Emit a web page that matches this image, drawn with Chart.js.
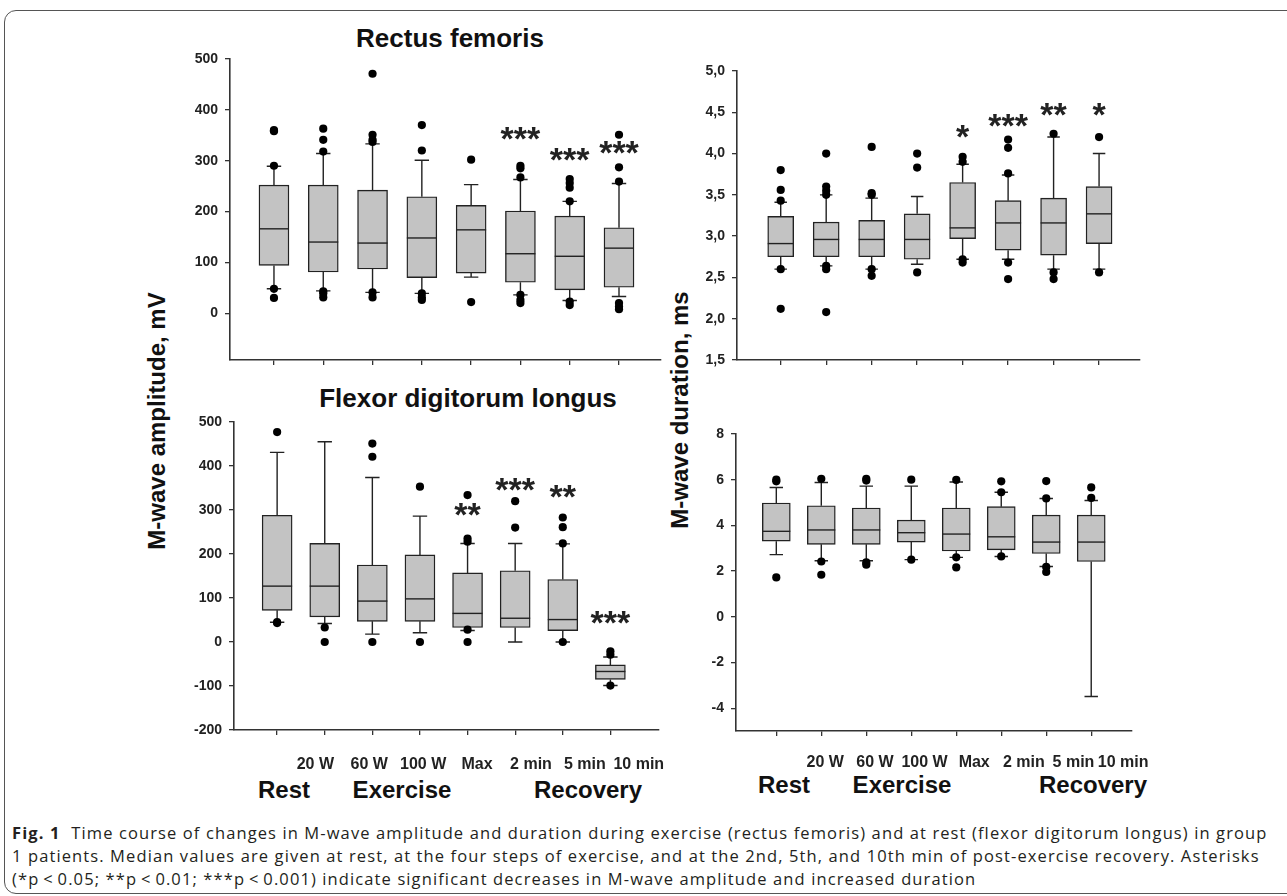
<!DOCTYPE html>
<html lang="en">
<head>
<meta charset="UTF-8">
<title>M-wave amplitude and duration</title>
<script src="https://cdn.jsdelivr.net/npm/chart.js"></script>
<style>
    body { margin: 0; width: 1287px; height: 896px; overflow: hidden; position: relative; background: #fff; font-family: Arial, "Liberation Sans", sans-serif; color: #111; }
    .frame { position: absolute; left: 4px; top: 10px; width: 1330px; height: 884px; border: 1.5px solid #555; border-radius: 12px; box-sizing: border-box; }
    canvas { position: absolute; }
    .lbl { position: absolute; transform: translate(-50%, -50%); white-space: nowrap; font-weight: bold; line-height: 1; }
    .title { font-size: 26px; }
    .group { font-size: 24px; }
    .ytitle { font-size: 24px; transform: translate(-50%, -50%) rotate(-90deg); }
    .cap { position: absolute; left: 12px; white-space: nowrap; font-family: "Open Sans", sans-serif; font-size: 16.5px; color: #231f20; line-height: 1; transform: translateY(-50%); }
</style>
</head>
<body>
<div class="frame"></div>

<div class="lbl title" style="left:450px; top:38px;">Rectus femoris</div>
<div class="lbl title" style="left:468px; top:398px;">Flexor digitorum longus</div>
<div class="lbl ytitle" style="left:157px; top:421px;">M-wave amplitude, mV</div>
<div class="lbl ytitle" style="left:680px; top:410px;">M-wave duration, ms</div>

<div class="lbl group" style="left:284px; top:790px;">Rest</div>
<div class="lbl group" style="left:402px; top:790px;">Exercise</div>
<div class="lbl group" style="left:588px; top:790px;">Recovery</div>
<div class="lbl group" style="left:784px; top:785px;">Rest</div>
<div class="lbl group" style="left:902px; top:785px;">Exercise</div>
<div class="lbl group" style="left:1093px; top:785px;">Recovery</div>

<canvas id="rfAmp" width="501" height="341" style="left:170px; top:39px;"></canvas>
<canvas id="rfDur" width="473" height="329" style="left:677px; top:51px;"></canvas>
<canvas id="fdlAmp" width="503" height="369" style="left:174px; top:402px;"></canvas>
<canvas id="fdlDur" width="482" height="358" style="left:676px; top:414px;"></canvas>

<div class="cap" style="top:833px;"><b>Fig. 1</b>&nbsp; Time course of changes in M-wave amplitude and duration during exercise (rectus femoris) and at rest (flexor digitorum longus) in group</div>
<div class="cap" style="top:856px;">1 patients. Median values are given at rest, at the four steps of exercise, and at the 2nd, 5th, and 10th min of post-exercise recovery. Asterisks</div>
<div class="cap" style="top:879px;">(*p&thinsp;&lt;&thinsp;0.05; **p&thinsp;&lt;&thinsp;0.01; ***p&thinsp;&lt;&thinsp;0.001) indicate significant decreases in M-wave amplitude and increased duration</div>

<script>
    // categories (Rest, 4 exercise steps, 3 recovery times)
    const categories = ['Rest', '20 W', '60 W', '100 W', 'Max', '2 min', '5 min', '10 min'];
    const xTickLabels = ['', '20 W', '60 W', '100 W', 'Max', '2 min', '5 min', '10 min'];

    // Rectus femoris, amplitude (mV)
    const rfAmpLo  = [48, 44, 41, 39, 71, 36, 25, 33];
    const rfAmpQ1  = [94, 81, 87, 70, 79, 61, 46, 51];
    const rfAmpMed = [166, 140, 138, 148, 164, 117, 112, 128];
    const rfAmpQ3  = [252, 252, 242, 229, 212, 201, 191, 168];
    const rfAmpHi  = [289, 314, 333, 301, 253, 263, 220, 255];
    const rfAmpOut = [[358, 360, 290, 48, 30], [363, 341, 318, 43, 39, 31], [471, 351, 341, 337, 41, 31],
                      [370, 320, 39, 31, 26], [302, 22], [290, 285, 267, 36, 26, 20],
                      [264, 256, 247, 220, 23, 16], [351, 287, 259, 20, 13, 8]];
    const rfAmpStars = ['', '', '', '', '', '***', '***', '***'];
    const rfAmpStarY = [0, 0, 0, 0, 0, 360, 318, 331];
    const rfAmpTicks = [0, 100, 200, 300, 400, 500];

    // Rectus femoris, duration (ms)
    const rfDurLo  = [2.60, 2.64, 2.60, 2.66, 2.72, 2.72, 2.60, 2.60];
    const rfDurQ1  = [2.75, 2.75, 2.75, 2.72, 2.97, 2.83, 2.77, 2.91];
    const rfDurMed = [2.91, 2.96, 2.96, 2.96, 3.10, 3.16, 3.16, 3.27];
    const rfDurQ3  = [3.24, 3.17, 3.19, 3.27, 3.65, 3.43, 3.46, 3.60];
    const rfDurHi  = [3.41, 3.50, 3.46, 3.48, 3.87, 3.74, 4.20, 4.00];
    const rfDurOut = [[3.80, 3.56, 3.43, 2.60, 2.12], [4.00, 3.60, 3.55, 3.50, 2.64, 2.60, 2.08],
                      [4.08, 3.52, 3.50, 2.60, 2.52], [4.00, 3.83, 2.56], [3.96, 3.90, 2.72, 2.68],
                      [4.17, 4.07, 3.76, 2.68, 2.48], [4.24, 2.56, 2.48], [4.20, 2.56]];
    const rfDurStars = ['', '', '', '', '*', '***', '**', '*'];
    const rfDurStarY = [0, 0, 0, 0, 4.30, 4.44, 4.57, 4.57];
    const rfDurTicks = [1.5, 2.0, 2.5, 3.0, 3.5, 4.0, 4.5, 5.0];

    // Flexor digitorum longus, amplitude (mV)
    const fdlAmpLo  = [45, 42, 18, 21, 26, 0, 0, -99];
    const fdlAmpQ1  = [72, 57, 47, 47, 33, 33, 26, -85];
    const fdlAmpMed = [127, 127, 93, 98, 65, 54, 51, -67];
    const fdlAmpQ3  = [288, 224, 175, 198, 157, 162, 142, -52];
    const fdlAmpHi  = [431, 455, 374, 286, 224, 224, 223, -34];
    const fdlAmpOut = [[477, 45, 43], [33, 0], [451, 421, 0], [353, 0], [334, 235, 228, 28, 0],
                       [320, 260], [283, 261, 224, 0], [-21, -29, -99]];
    const fdlAmpStars = ['', '', '', '', '**', '***', '**', '***'];
    const fdlAmpStarY = [0, 0, 0, 0, 307, 364, 349, 63];
    const fdlAmpTicks = [-200, -100, 0, 100, 200, 300, 400, 500];

    // Flexor digitorum longus, duration (ms)
    const fdlDurLo  = [2.72, 2.45, 2.45, 2.50, 2.60, 2.64, 2.20, -3.49];
    const fdlDurQ1  = [3.31, 3.17, 3.17, 3.27, 2.88, 2.93, 2.77, 2.42];
    const fdlDurMed = [3.74, 3.80, 3.80, 3.68, 3.62, 3.50, 3.27, 3.27];
    const fdlDurQ3  = [4.98, 4.86, 4.76, 4.23, 4.76, 4.82, 4.45, 4.45];
    const fdlDurHi  = [5.66, 5.88, 5.72, 5.72, 5.90, 5.45, 5.18, 5.09];
    const fdlDurOut = [[6.0, 5.93, 1.72], [6.04, 2.42, 1.84], [6.04, 5.96, 2.38, 2.28], [6.0, 2.5],
                       [5.99, 2.6, 2.16], [5.93, 5.45, 2.64], [5.94, 5.18, 2.18, 1.96], [5.66, 5.2]];
    const fdlDurStars = ['', '', '', '', '', '', '', ''];
    const fdlDurStarY = [0, 0, 0, 0, 0, 0, 0, 0];
    const fdlDurTicks = [-4, -2, 0, 2, 4, 6, 8];

    const INK = '#222';
    const tickFont = { family: 'Arial', weight: 'bold', size: 14 };
    const STAR = 34;

    // whiskers under the boxes, medians and asterisks over them
    function whiskerPlugin(d) {
        return {
            id: 'whiskers',
            beforeDatasetsDraw(chart) {
                const { ctx, scales: { x, y } } = chart;
                const bars = chart.getDatasetMeta(1).data;
                ctx.save();
                ctx.strokeStyle = INK;
                ctx.lineWidth = 1.4;
                d.q1.forEach((q, i) => {
                    const px = x.getPixelForValue(i + 1);
                    const cw = bars[i].width * 0.24;
                    const yHi = y.getPixelForValue(d.hi[i]), yLo = y.getPixelForValue(d.lo[i]);
                    ctx.beginPath();
                    ctx.moveTo(px, y.getPixelForValue(d.q3[i])); ctx.lineTo(px, yHi);
                    ctx.moveTo(px, y.getPixelForValue(q)); ctx.lineTo(px, yLo);
                    ctx.moveTo(px - cw, yHi); ctx.lineTo(px + cw, yHi);
                    ctx.moveTo(px - cw, yLo); ctx.lineTo(px + cw, yLo);
                    ctx.stroke();
                });
                ctx.restore();
            },
            afterDatasetsDraw(chart) {
                const { ctx, scales: { x, y } } = chart;
                const bars = chart.getDatasetMeta(1).data;
                ctx.save();
                ctx.strokeStyle = INK;
                ctx.lineWidth = 1.4;
                d.med.forEach((m, i) => {
                    const px = x.getPixelForValue(i + 1), hw = bars[i].width / 2;
                    const py = y.getPixelForValue(m);
                    ctx.beginPath();
                    ctx.moveTo(px - hw, py); ctx.lineTo(px + hw, py);
                    ctx.stroke();
                });
                ctx.fillStyle = INK;
                ctx.font = 'bold ' + STAR + 'px Arial';
                ctx.textAlign = 'center';
                ctx.textBaseline = 'alphabetic';
                d.stars.forEach((s, i) => {
                    if (!s) return;
                    ctx.fillText(s, x.getPixelForValue(i + 1), y.getPixelForValue(d.starY[i]) + 0.57 * STAR);
                });
                ctx.restore();
            }
        };
    }

    function boxPanel(id, d, o) {
        const boxes = d.q1.map((q, i) => ({ x: i + 1, y: [q, d.q3[i]] }));
        const dots = [];
        d.out.forEach((arr, i) => arr.forEach(v => dots.push({ x: i + 1, y: v })));

        const scales = {
            x: {
                type: 'linear', min: o.xMin, max: o.xMax, offset: false,
                afterBuildTicks: s => { s.ticks = categories.map((c, i) => ({ value: i + 1 })); },
                ticks: { display: false },
                grid: { display: true, offset: false, drawOnChartArea: false, drawTicks: true, tickLength: 5, color: '#333', lineWidth: 1.3 },
                border: { display: true, color: '#333', width: 1.6 },
                afterFit: s => { s.height = 5; }
            },
            y: {
                type: 'linear', min: o.yMin, max: o.yMax,
                afterBuildTicks: s => { s.ticks = d.ticks.map(v => ({ value: v })); },
                ticks: { callback: o.fmt, font: tickFont, color: INK, padding: 7 },
                grid: { display: true, drawOnChartArea: false, drawTicks: true, tickLength: 5, color: '#333', lineWidth: 1.3 },
                border: { display: true, color: '#333', width: 1.6 },
                afterFit: s => { s.width = 60; }
            }
        };
        if (o.labels) {
            // tick names sit on their own row, spaced a little wider than the boxes
            scales.x2 = {
                type: 'linear', position: 'bottom', min: o.lblMin, max: o.lblMax, offset: false,
                afterBuildTicks: s => { s.ticks = xTickLabels.map((t, i) => ({ value: i + 1 })).filter(t => xTickLabels[t.value - 1]); },
                ticks: { callback: v => xTickLabels[v - 1], font: { family: 'Arial', weight: 'bold', size: 16 }, color: INK,
                         padding: o.lblPad, maxRotation: 0, autoSkip: false },
                grid: { display: false, offset: false },
                border: { display: false },
                afterFit: s => { s.height = 36; }
            };
        }

        new Chart(document.getElementById(id), {
            type: 'bar',
            data: {
                datasets: [
                    { type: 'scatter', data: dots, pointRadius: 4.1, pointBackgroundColor: '#000', pointBorderWidth: 0 },
                    { type: 'bar', data: boxes, backgroundColor: '#c3c3c3', borderColor: INK, borderWidth: 1.4,
                      borderSkipped: false, barThickness: o.barW }
                ]
            },
            options: {
                responsive: false,
                animation: false,
                events: [],
                layout: { padding: { top: 20, right: 10, left: 0, bottom: o.labels ? 0 : 15 } },
                plugins: { legend: { display: false }, tooltip: { enabled: false } },
                scales: scales
            },
            plugins: [whiskerPlugin(d)]
        });
    }

    boxPanel('rfAmp',
        { lo: rfAmpLo, q1: rfAmpQ1, med: rfAmpMed, q3: rfAmpQ3, hi: rfAmpHi, out: rfAmpOut, stars: rfAmpStars, starY: rfAmpStarY, ticks: rfAmpTicks },
        { xMin: 0.108, xMax: 8.852, yMin: -92, yMax: 500, barW: 30, fmt: v => String(v) });

    boxPanel('rfDur',
        { lo: rfDurLo, q1: rfDurQ1, med: rfDurMed, q3: rfDurQ3, hi: rfDurHi, out: rfDurOut, stars: rfDurStars, starY: rfDurStarY, ticks: rfDurTicks },
        { xMin: 0.039, xMax: 8.90, yMin: 1.5, yMax: 5.0, barW: 26, fmt: v => v.toFixed(1).replace('.', ',') });

    boxPanel('fdlAmp',
        { lo: fdlAmpLo, q1: fdlAmpQ1, med: fdlAmpMed, q3: fdlAmpQ3, hi: fdlAmpHi, out: fdlAmpOut, stars: fdlAmpStars, starY: fdlAmpStarY, ticks: fdlAmpTicks },
        { xMin: 0.094, xMax: 9.009, yMin: -200, yMax: 500, barW: 30, fmt: v => String(v),
          labels: true, lblMin: 0.491, lblMax: 8.364, lblPad: 12 });

    boxPanel('fdlDur',
        { lo: fdlDurLo, q1: fdlDurQ1, med: fdlDurMed, q3: fdlDurQ3, hi: fdlDurHi, out: fdlDurOut, stars: fdlDurStars, starY: fdlDurStarY, ticks: fdlDurTicks },
        { xMin: 0.104, xMax: 8.896, yMin: -5, yMax: 8, barW: 28, fmt: v => String(v),
          labels: true, lblMin: 0.201, lblMax: 8.17, lblPad: 9 });

    // stretch the caption a little so the first line fills the frame like the original
    const capLines = document.querySelectorAll('.cap');
    const first = capLines[0];
    const spread = (1255 - first.getBoundingClientRect().width) / first.textContent.length;
    capLines.forEach(el => { el.style.letterSpacing = Math.max(spread, 0).toFixed(2) + 'px'; });
</script>
</body>
</html>
